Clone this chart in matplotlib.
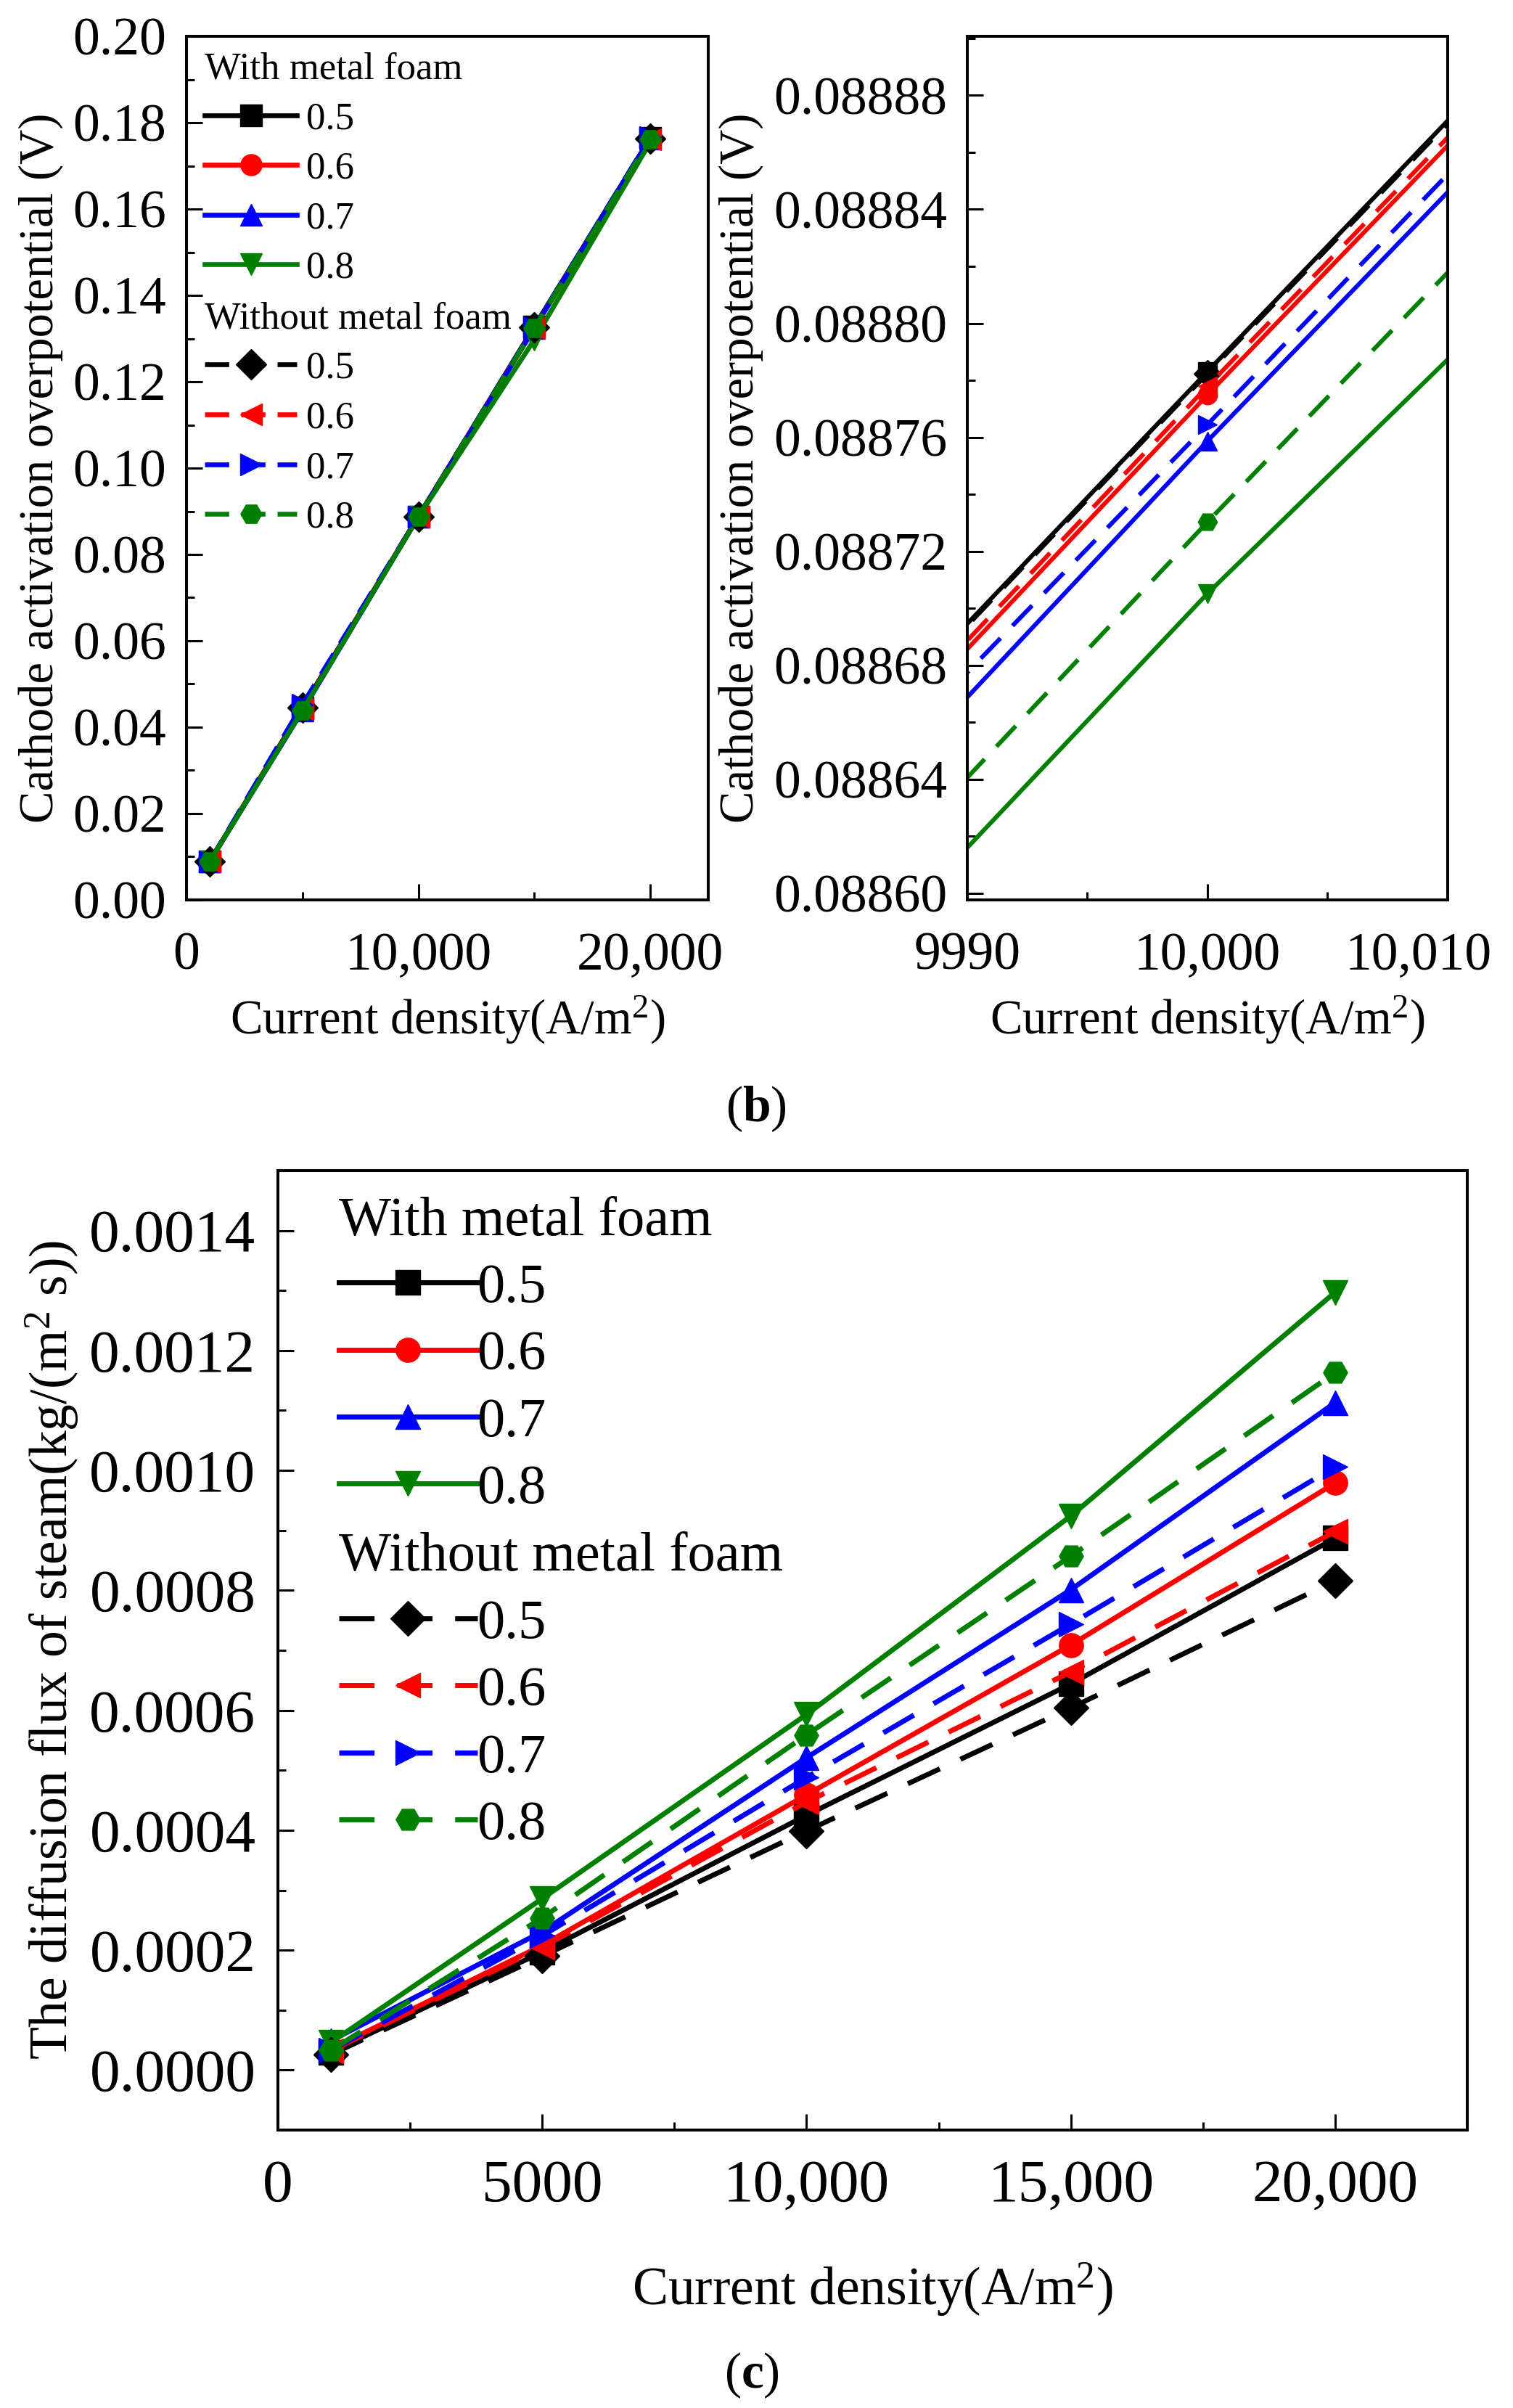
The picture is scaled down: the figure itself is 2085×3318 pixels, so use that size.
import numpy as np
import matplotlib.pyplot as plt
from matplotlib.ticker import MultipleLocator
from matplotlib.transforms import ScaledTranslation

plt.rcParams['font.family'] = ['Liberation Serif', 'DejaVu Serif']
plt.rcParams['mathtext.fontset'] = 'custom'
plt.rcParams['mathtext.rm'] = 'Liberation Serif'
plt.rcParams['mathtext.it'] = 'Liberation Serif:italic'
plt.rcParams['mathtext.bf'] = 'Liberation Serif:bold'

# data
current = [1000, 5000, 10000, 15000, 20000]
porosity = ['0.5', '0.6', '0.7', '0.8']
colors = ['#000000', '#ff0000', '#0000ff', '#008000']
markers_with = ['s', 'o', '^', 'v']
markers_without = ['D', '<', '>', 'H']

# cathode activation overpotential (V), with / without metal foam
eta_with_05 = [0.00890, 0.0445331, 0.0887831, 0.1327831, 0.17650]
eta_with_06 = [0.00889, 0.0441749, 0.0887749, 0.1325249, 0.17630]
eta_with_07 = [0.00888, 0.0438087, 0.0887587, 0.1324087, 0.17640]
eta_with_08 = [0.00886, 0.0441052, 0.0887052, 0.1297552, 0.17550]
eta_without_05 = [0.00889, 0.0445324, 0.0887824, 0.1326324, 0.17640]
eta_without_06 = [0.00889, 0.0441779, 0.0887779, 0.1324279, 0.17620]
eta_without_07 = [0.00888, 0.0452645, 0.0887645, 0.1326645, 0.17660]
eta_without_08 = [0.00887, 0.0438803, 0.0887303, 0.1324803, 0.17620]

# diffusion flux of steam (kg/(m2 s))
flux_with_05 = [0.000030, 0.000197, 0.000425, 0.000644, 0.000887]
flux_with_06 = [0.000035, 0.000208, 0.000459, 0.000709, 0.000979]
flux_with_07 = [0.000049, 0.000231, 0.000521, 0.000801, 0.001113]
flux_with_08 = [0.000046, 0.000286, 0.000593, 0.000924, 0.001297]
flux_without_05 = [0.000026, 0.000190, 0.000399, 0.000604, 0.000816]
flux_without_06 = [0.000032, 0.000205, 0.000447, 0.000664, 0.000898]
flux_without_07 = [0.000033, 0.000224, 0.000488, 0.000744, 0.001006]
flux_without_08 = [0.000033, 0.000254, 0.000559, 0.000857, 0.001163]

eta_with = [eta_with_05, eta_with_06, eta_with_07, eta_with_08]
eta_without = [eta_without_05, eta_without_06, eta_without_07, eta_without_08]
flux_with = [flux_with_05, flux_with_06, flux_with_07, flux_with_08]
flux_without = [flux_without_05, flux_without_06, flux_without_07, flux_without_08]

# ticks
b_xticks = [0, 10000, 20000]
b_xlabels = ['0', '10,000', '20,000']
b_yticks = [0.00, 0.02, 0.04, 0.06, 0.08, 0.10, 0.12, 0.14, 0.16, 0.18, 0.20]
b_ylabels = ['0.00', '0.02', '0.04', '0.06', '0.08', '0.10', '0.12', '0.14', '0.16', '0.18', '0.20']
z_xticks = [9990, 10000, 10010]
z_xlabels = ['9990', '10,000', '10,010']
z_yticks = [0.08860, 0.08864, 0.08868, 0.08872, 0.08876, 0.08880, 0.08884, 0.08888]
z_ylabels = ['0.08860', '0.08864', '0.08868', '0.08872', '0.08876', '0.08880', '0.08884', '0.08888']
c_xticks = [0, 5000, 10000, 15000, 20000]
c_xlabels = ['0', '5000', '10,000', '15,000', '20,000']
c_yticks = [0.0000, 0.0002, 0.0004, 0.0006, 0.0008, 0.0010, 0.0012, 0.0014]
c_ylabels = ['0.0000', '0.0002', '0.0004', '0.0006', '0.0008', '0.0010', '0.0012', '0.0014']


def draw_series(ax, y_with, y_without, lw, ms, dash):
    hw, hn = [], []
    for i in range(4):
        h, = ax.plot(current, y_with[i], color=colors[i], marker=markers_with[i],
                     lw=lw, ms=ms, label=porosity[i])
        hw.append(h)
    for i in range(4):
        h, = ax.plot(current, y_without[i], color=colors[i], marker=markers_without[i],
                     lw=lw, ms=ms, ls=(0, dash), label=porosity[i])
        hn.append(h)
    return hw, hn


def style_axes(ax, tick_fs, pad_x, pad_y, spine_w):
    for s in ax.spines.values():
        s.set_linewidth(spine_w)
    ax.tick_params(which='both', direction='in', top=False, right=False, width=2.2)
    ax.tick_params(which='major', length=16, labelsize=tick_fs)
    ax.tick_params(which='minor', length=8)
    ax.tick_params(axis='x', pad=pad_x)
    ax.tick_params(axis='y', pad=pad_y)


def add_legends(ax, hw, hn, x, y1, y2, fs, hl, tp, sp):
    kw = dict(loc='upper left', frameon=False, fontsize=fs, title_fontsize=fs,
              alignment='left', handlelength=hl, handletextpad=tp, labelspacing=sp,
              borderpad=0, borderaxespad=0)
    leg1 = ax.legend(handles=hw, title='With metal foam', bbox_to_anchor=(x, y1), **kw)
    ax.add_artist(leg1)
    ax.legend(handles=hn, title='Without metal foam', bbox_to_anchor=(x, y2), **kw)


fig = plt.figure(figsize=(20.85, 33.18), dpi=100)

# (b) left: full range
ax1 = fig.add_axes([0.1233, 0.6263, 0.3448, 0.3586])
hw, hn = draw_series(ax1, eta_with, eta_without, 4.8, 21, (5, 2.5))
ax1.set_xlim(0, 22500)
ax1.set_ylim(0, 0.20)
ax1.set_xticks(b_xticks, b_xlabels)
ax1.xaxis.set_minor_locator(MultipleLocator(5000))
ax1.set_yticks(b_yticks, b_ylabels)
ax1.yaxis.set_minor_locator(MultipleLocator(0.01))
style_axes(ax1, 53, 32, 20, 2.9)
ax1.set_xlabel('Current density(A/m$^2$)', fontsize=48, labelpad=13)
ax1.set_ylabel('Cathode activation overpotential (V)', fontsize=48, labelpad=10)
add_legends(ax1, hw, hn, 0.035, 0.982, 0.693, 38, 2.4, 0.25, 0.39)

# (b) right: zoom around 10,000 A/m2
ax2 = fig.add_axes([0.6393, 0.6263, 0.3175, 0.3586])
draw_series(ax2, eta_with, eta_without, 4.3, 19, (6.5, 4))
ax2.set_xlim(9990, 10010)
ax2.set_ylim(0.0885977, 0.0889007)
ax2.set_xticks(z_xticks, z_xlabels)
ax2.xaxis.set_minor_locator(MultipleLocator(5))
ax2.set_yticks(z_yticks, z_ylabels)
ax2.yaxis.set_minor_locator(MultipleLocator(0.00002))
style_axes(ax2, 53, 32, 20, 2.9)
ax2.set_xlabel('Current density(A/m$^2$)', fontsize=48, labelpad=13)
ax2.set_ylabel('Cathode activation overpotential (V)', fontsize=48, labelpad=10)
# last tick label sits a bit to the left so it stays inside the figure
last = ax2.get_xticklabels()[-1]
last.set_transform(last.get_transform() + ScaledTranslation(-0.40, 0, fig.dpi_scale_trans))

fig.text(0.4995, 0.5395, r'($\mathbf{b}$)', fontsize=50, ha='center', va='center')

# (c) diffusion flux of steam
ax3 = fig.add_axes([0.1837, 0.1154, 0.7861, 0.3985])
hw, hn = draw_series(ax3, flux_with, flux_without, 5.0, 24, (7, 4.5))
ax3.set_xlim(0, 22500)
ax3.set_ylim(-0.0001, 0.0015)
ax3.set_xticks(c_xticks, c_xlabels)
ax3.xaxis.set_minor_locator(MultipleLocator(2500))
ax3.set_yticks(c_yticks, c_ylabels)
ax3.yaxis.set_minor_locator(MultipleLocator(0.0001))
style_axes(ax3, 60, 29, 22, 2.9)
ax3.set_xlabel('Current density(A/m$^2$)', fontsize=53, labelpad=46)
ax3.set_ylabel('The diffusion flux of steam(kg/(m$^2$ s))', fontsize=53, labelpad=9)
add_legends(ax3, hw, hn, 0.051, 0.973, 0.623, 55, 2.5, 0.0, 0.30)

fig.text(0.497, 0.0135, r'($\mathbf{c}$)', fontsize=50, ha='center', va='center')

fig.savefig('out.png', dpi=100)
